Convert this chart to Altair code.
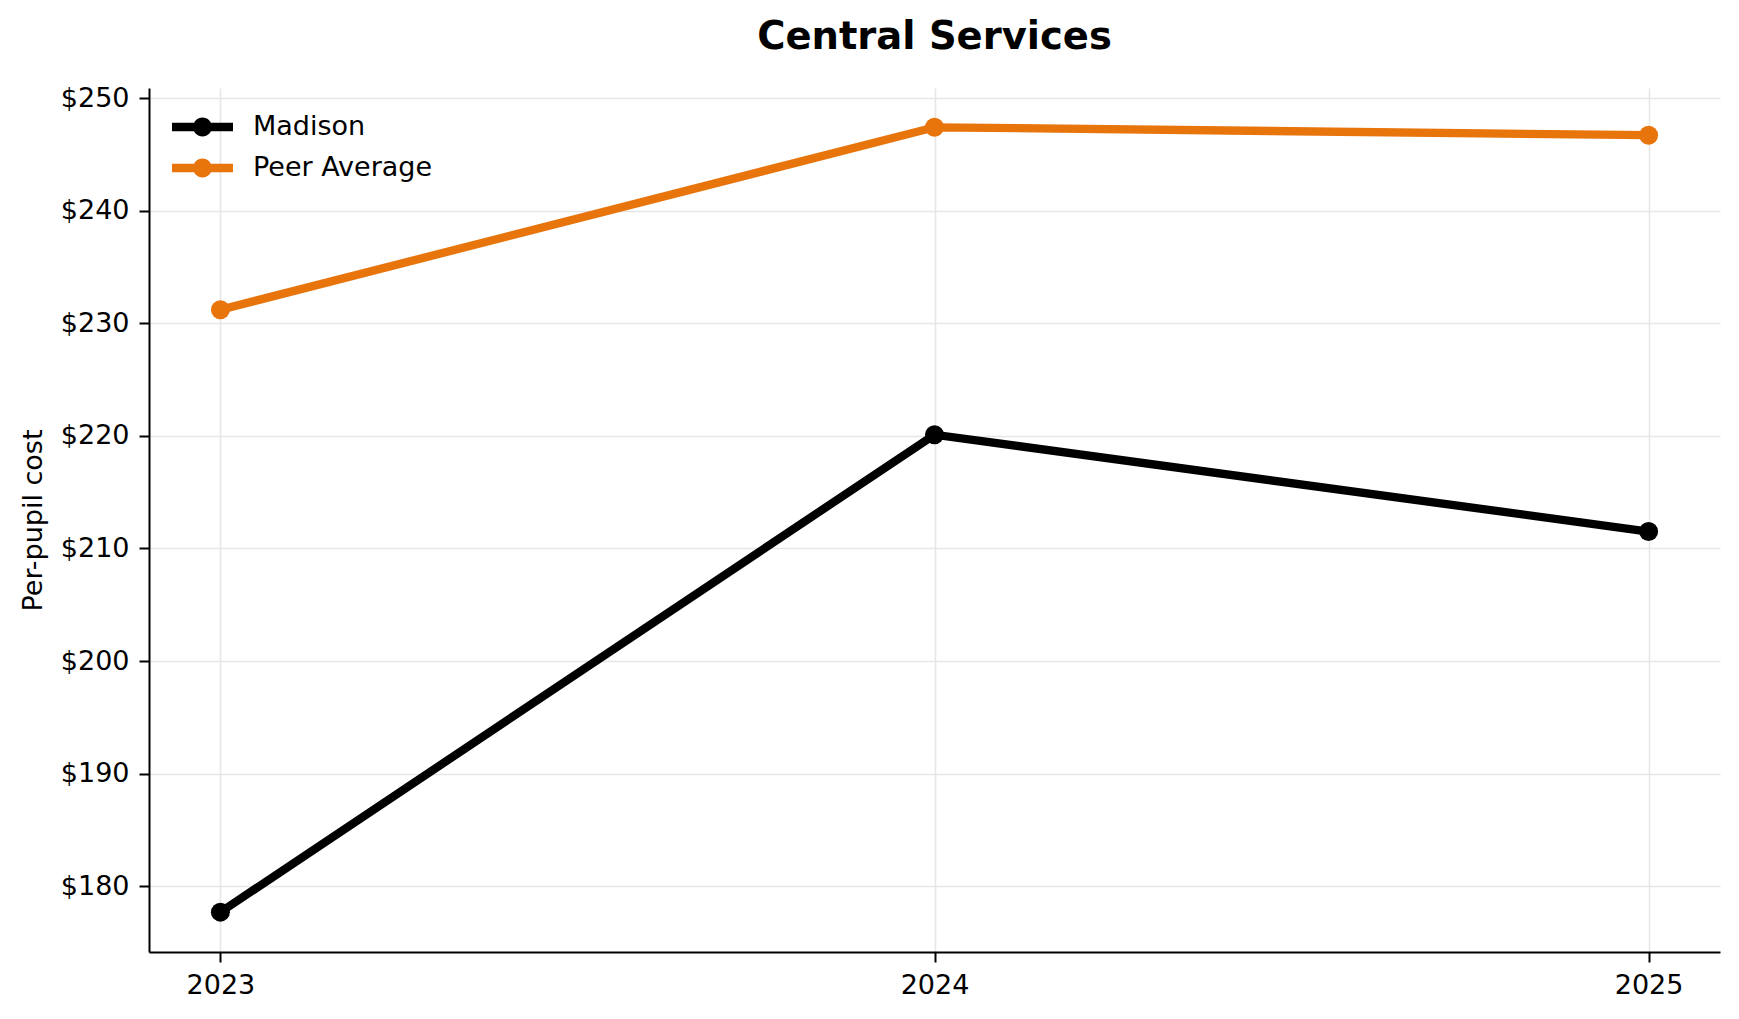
import altair as alt
import pandas as pd

years = [2023, 2024, 2025]
madison = [177.7, 220.1, 211.5]
peer = [231.2, 247.4, 246.7]
series_names = ["Madison", "Peer Average"]
series_colors = ["#000000", "#E8740C"]
y_ticks = [180, 190, 200, 210, 220, 230, 240, 250]

rows = []
for name, vals in zip(series_names, [madison, peer]):
    for yr, v in zip(years, vals):
        rows.append({"Year": yr, "Cost": v, "Series": name})
df = pd.DataFrame(rows)

FONT = "DejaVu Sans"
GRID = "#e6e6e6"

legend_path = ("M-1,-0.136 L1,-0.136 L1,0.136 L-1,0.136 Z "
               "M0.31,0 A0.31,0.31 0 1,1 -0.31,0 A0.31,0.31 0 1,1 0.31,0 Z")

x_enc = alt.X("Year:Q",
              scale=alt.Scale(domain=[2022.9, 2025.1], nice=False, zero=False),
              axis=alt.Axis(values=years, format="d", title=None,
                            labelFontSize=27, labelFont=FONT, labelColor="black",
                            labelPadding=10, tickColor="black", tickSize=10, tickWidth=2,
                            domainColor="black", domainWidth=2,
                            grid=True, gridColor=GRID, gridWidth=1.6))
y_enc = alt.Y("Cost:Q",
              scale=alt.Scale(domain=[174.16, 250.89], nice=False, zero=False),
              axis=alt.Axis(values=y_ticks, format="$.0f", title="Per-pupil cost",
                            titleFontSize=27, titleFont=FONT, titleFontWeight="normal",
                            titleColor="black", titlePadding=13,
                            labelFontSize=27, labelFont=FONT, labelColor="black",
                            labelPadding=10, tickColor="black", tickSize=10, tickWidth=2,
                            domainColor="black", domainWidth=2,
                            grid=True, gridColor=GRID, gridWidth=1.6))

points = alt.Chart(df).mark_point(filled=True, size=361, opacity=1).encode(
    x=x_enc, y=y_enc,
    color=alt.Color("Series:N",
                    scale=alt.Scale(domain=series_names, range=series_colors),
                    legend=alt.Legend(title=None, orient="none", legendX=23, legendY=29,
                                      symbolType=legend_path, symbolSize=3721,
                                      symbolStrokeWidth=0, symbolOpacity=1,
                                      labelFontSize=27, labelFont=FONT, labelColor="black",
                                      labelOffset=20, labelLimit=500,
                                      clipHeight=20, rowPadding=14,
                                      padding=0)),
)

lines = alt.Chart(df).mark_line(strokeWidth=8.3).encode(
    x=x_enc, y=y_enc,
    stroke=alt.Stroke("Series:N",
                      scale=alt.Scale(domain=series_names, range=series_colors),
                      legend=None),
    detail="Series:N",
)

chart = alt.layer(points, lines).properties(
    width=1571, height=864,
    title=alt.TitleParams("Central Services", fontSize=38.5, font=FONT, fontWeight="bold",
                          color="black", anchor="middle", baseline="alphabetic", offset=-3),
    autosize=alt.AutoSizeParams(type="none"),
    padding={"left": 141, "top": 80, "right": 10, "bottom": 60},
    background="white",
).configure_view(stroke=None)

chart.save("out.html", embed_options={"renderer": "svg", "actions": False})
